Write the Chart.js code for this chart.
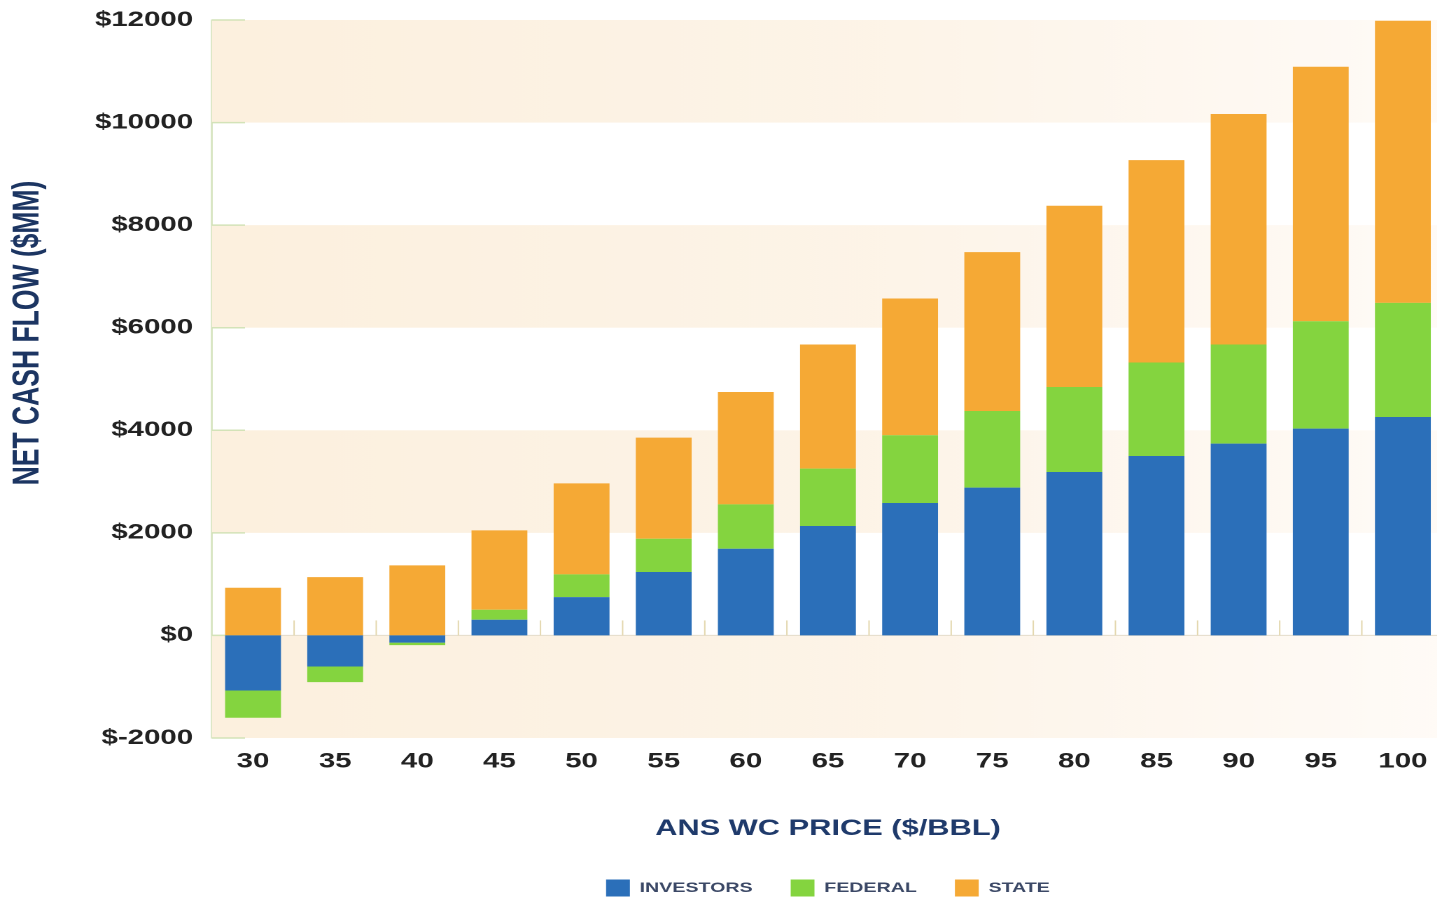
<!DOCTYPE html>
<html>
<head>
<meta charset="utf-8">
<script src="https://cdn.jsdelivr.net/npm/chart.js@4.4.1/dist/chart.umd.min.js"></script>
<style>
  html, body { margin:0; padding:0; overflow:hidden; background:#ffffff; width:1437px; height:899px; }
  #wrap { position:absolute; left:0; top:0; width:1034px; height:899px; transform:scaleX(1.4); transform-origin:0 0; }
  canvas { display:block; }
</style>
</head>
<body>
<div id="wrap"><canvas id="c" width="1034" height="899"></canvas></div>
<script>
// ---- data ----
const categories = ['30','35','40','45','50','55','60','65','70','75','80','85','90','95','100'];
const investors = [-1073,-605,-140,306,748,1236,1690,2133,2582,2882,3187,3499,3740,4033,4260];
const federal   = [-533,-306,-50,195,442,650,865,1120,1320,1495,1658,1822,1932,2094,2224];
const state     = [930,1138,1366,1548,1776,1971,2192,2420,2668,3096,3532,3947,4494,4962,5502];
const seriesNames = ['INVESTORS','FEDERAL','STATE'];
const yMin = -2000, yMax = 12000, yStep = 2000;
const bandRanges = [[10000,12000],[6000,8000],[2000,4000],[-2000,0]];
const xTitle = 'ANS WC PRICE ($/BBL)';
const yTitle = 'NET CASH FLOW ($MM)';

const FONT = "'Liberation Sans', Arial, sans-serif";

const decorPlugin = {
  id: 'decor',
  beforeDatasetsDraw(chart) {
    const {ctx, chartArea:a, scales:{x, y}} = chart;
    ctx.save();
    const g = ctx.createLinearGradient(a.left, 0, a.right, 0);
    g.addColorStop(0, 'rgba(252,240,222,1)');
    g.addColorStop(0.55, 'rgba(253,244,232,1)');
    g.addColorStop(1, 'rgba(255,251,247,1)');
    ctx.fillStyle = g;
    bandRanges.forEach(([lo, hi]) => {
      const t = y.getPixelForValue(hi), b = y.getPixelForValue(lo);
      ctx.fillRect(a.left, t, a.right - a.left, b - t);
    });
    // zero line
    const y0 = y.getPixelForValue(0);
    ctx.strokeStyle = '#e4dccb';
    ctx.lineWidth = 1;
    ctx.beginPath(); ctx.moveTo(a.left, y0); ctx.lineTo(a.right, y0); ctx.stroke();
    // short ticks on gridlines near axis
    ctx.strokeStyle = '#d3e3b8';
    ctx.lineWidth = 1.5;
    y.ticks.forEach(t => {
      const py = y.getPixelForValue(t.value);
      ctx.beginPath(); ctx.moveTo(a.left, py); ctx.lineTo(a.left + 23.6, py); ctx.stroke();
    });
    // category boundary ticks on zero line
    ctx.strokeStyle = '#e3d7ad';
    ctx.lineWidth = 1;
    for (let i = 1; i < categories.length; i++) {
      const px = (x.getPixelForValue(i - 1) + x.getPixelForValue(i)) / 2;
      ctx.beginPath(); ctx.moveTo(px, y0); ctx.lineTo(px, y0 - 15); ctx.stroke();
    }
    ctx.restore();
  },
  afterDraw(chart) {
    const {ctx} = chart;
    ctx.save();
    ctx.translate(20, 333);
    ctx.rotate(-Math.PI / 2);
    ctx.font = "bold 26.5px " + FONT;
    ctx.fillStyle = '#1c3562';
    ctx.textAlign = 'center';
    ctx.textBaseline = 'middle';
    ctx.fillText(yTitle, 0, 0);
    ctx.restore();
  }
};

new Chart(document.getElementById('c'), {
  type: 'bar',
  data: {
    labels: categories,
    datasets: [
      { label: seriesNames[0], data: investors, backgroundColor: '#2b6fb9', borderWidth: 0 },
      { label: seriesNames[1], data: federal,   backgroundColor: '#84d43f', borderWidth: 0 },
      { label: seriesNames[2], data: state,     backgroundColor: '#f5a935', borderWidth: 0 }
    ]
  },
  options: {
    responsive: false,
    animation: false,
    devicePixelRatio: 2,
    layout: { padding: { top: 20, right: 2.6, left: 0, bottom: 0 } },
    datasets: { bar: { barPercentage: 0.68, categoryPercentage: 1.0 } },
    plugins: {
      legend: {
        position: 'bottom',
        fullSize: false,
        maxHeight: 46.7,
        labels: {
          boxWidth: 17, boxHeight: 17, padding: 27.2,
          color: '#3b4866',
          font: { family: FONT, size: 14, weight: 'bold' }
        }
      },
      tooltip: { enabled: false }
    },
    scales: {
      x: {
        stacked: true,
        grid: { display: false, drawTicks: false },
        border: { display: false },
        ticks: { color: '#222222', padding: 11, font: { family: FONT, size: 21, weight: 'bold' } },
        title: { display: true, text: xTitle, color: '#1f3a6b', padding: { top: 0, bottom: 10.1 },
                 font: { family: FONT, size: 22, weight: 'bold' } },
        afterFit: (s) => { s.height = 114.3; }
      },
      y: {
        stacked: true,
        min: yMin, max: yMax,
        grid: { display: false, drawTicks: false },
        border: { display: true, color: '#d9e6c4', width: 1.5 },
        ticks: { stepSize: yStep, color: '#222222', padding: 13.5,
                 font: { family: FONT, size: 21, weight: 'bold' },
                 callback: (v) => '$' + v },
        afterFit: (s) => { s.width = 151.4; s.paddingTop = 0; s.paddingBottom = 0; }
      }
    }
  },
  plugins: [decorPlugin]
});
</script>
</body>
</html>
